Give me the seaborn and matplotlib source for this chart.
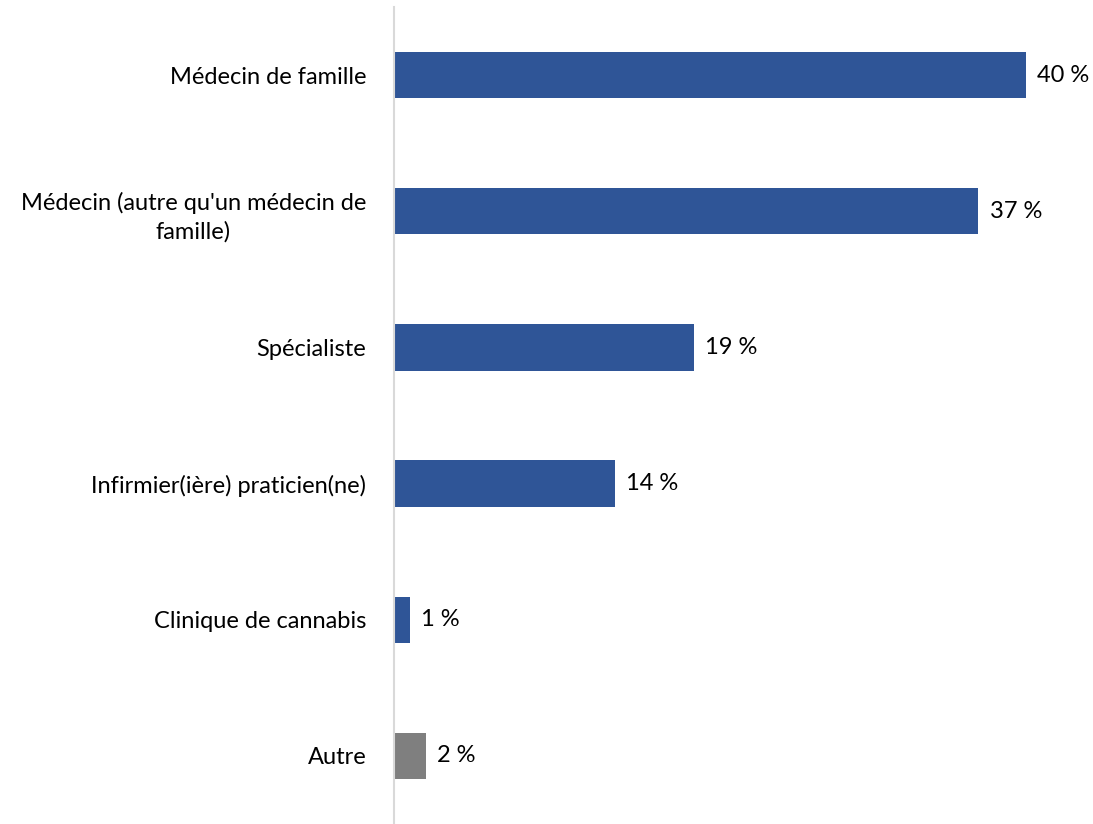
import matplotlib
matplotlib.use("Agg")
import matplotlib.pyplot as plt
import seaborn as sns
import pandas as pd

categories = [
    "Médecin de famille",
    "Médecin (autre qu'un médecin de\nfamille)",
    "Spécialiste",
    "Infirmier(ière) praticien(ne)",
    "Clinique de cannabis",
    "Autre",
]
values = [40, 37, 19, 14, 1, 2]
bar_colors = ["#2F5597", "#2F5597", "#2F5597", "#2F5597", "#2F5597", "#7F7F7F"]

sns.set_theme(style="white")
plt.rcParams["font.family"] = ["Lato", "DejaVu Sans"]

df = pd.DataFrame({"cat": categories, "val": values})

fig = plt.figure(figsize=(10.93, 8.24), dpi=100)
ax = fig.add_axes([394 / 1093, 0.0, (1089 - 394) / 1093, 1 - 7 / 824])

sns.barplot(data=df, y="cat", x="val", hue="cat", palette=bar_colors,
            orient="h", width=0.34, legend=False, ax=ax, saturation=1,
            linewidth=0)

ax.set_xlim(0, 44)
ax.set_ylim(5.5, -0.5)
ax.set_xlabel("")
ax.set_ylabel("")
ax.set_xticks([])

for s in ["top", "right", "bottom"]:
    ax.spines[s].set_visible(False)
ax.spines["left"].set_color("#D9D9D9")
ax.spines["left"].set_linewidth(1.5)

ax.tick_params(axis="y", length=0, pad=20, labelsize=17, labelcolor="black")
for lbl in ax.get_yticklabels():
    lbl.set_multialignment("center")
    lbl.set_linespacing(1.45)

for i, v in enumerate(values):
    ax.annotate(f"{v} %", xy=(v, i), xytext=(8, 0), textcoords="offset points",
                va="center", ha="left", fontsize=17, color="black")

fig.savefig("out.png", dpi=100)
